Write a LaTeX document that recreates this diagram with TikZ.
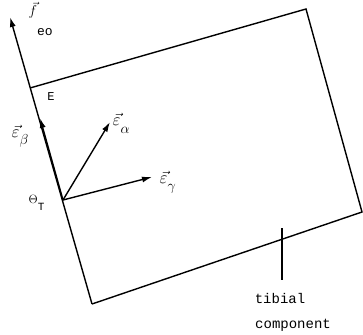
\documentclass[tikz,border=0pt]{standalone}
\usepackage{fontspec}
\setmonofont{Liberation Mono}
\usetikzlibrary{arrows.meta}
\newcommand{\lowsub}[2]{\raisebox{#1}{\fontsize{14}{16}\selectfont #2}}
\begin{document}
\begin{tikzpicture}[x=1pt,y=-1pt,line width=1.4pt,
  tip/.style={-{Latex[length=10pt,width=6pt]}},
  lbl/.style={inner sep=0pt,anchor=base west,font=\fontsize{17}{19}\selectfont},
  txt/.style={inner sep=0pt,font=\fontsize{14}{16}\ttfamily}]
\useasboundingbox (0,0) rectangle (363,334);
\coordinate (E) at (30,88);
\coordinate (TR) at (306,9);
\coordinate (BR) at (362,212);
\coordinate (BL) at (92,304);
\coordinate (OT) at (63,200);
\coordinate (ftip) at (10,17);
\coordinate (btip) at (40,118);
\coordinate (atip) at (110,122);
\coordinate (gtip) at (152,177);
\coordinate (t1) at (282,228);
\coordinate (t2) at (282,280);
\draw (E) -- (TR) -- (BR) -- (BL);
\draw[tip] (BL) -- (ftip);
\draw[tip] (OT) -- (btip);
\draw[tip] (OT) -- (atip);
\draw[tip] (OT) -- (gtip);
\draw (t1) -- (t2);
\node[lbl,font=\fontsize{14}{16}\selectfont] (fl) at (28,16) {$\vec{f}$\raisebox{-20pt}{\fontsize{13}{15}\ttfamily eo}};
\node[txt,font=\fontsize{12}{14}\ttfamily] (El) at (51,96.5) {E};
\node[lbl] (bl) at (11,137) {$\vec{\varepsilon}$\lowsub{-7pt}{$\beta$}};
\node[lbl] (al) at (112,125) {$\vec{\varepsilon}$\lowsub{-8pt}{$\alpha$}};
\node[lbl] (gl) at (159,183) {$\vec{\varepsilon}$\lowsub{-7pt}{$\gamma$}};
\node[lbl,font=\fontsize{12}{14}\selectfont] (ol) at (28,203) {$\Theta$\raisebox{-7pt}{\fontsize{11}{13}\ttfamily T}};
\node[txt] (tib) at (280,298) {tibial};
\node[txt] (comp) at (293,325) {component};
\end{tikzpicture}
\end{document}
